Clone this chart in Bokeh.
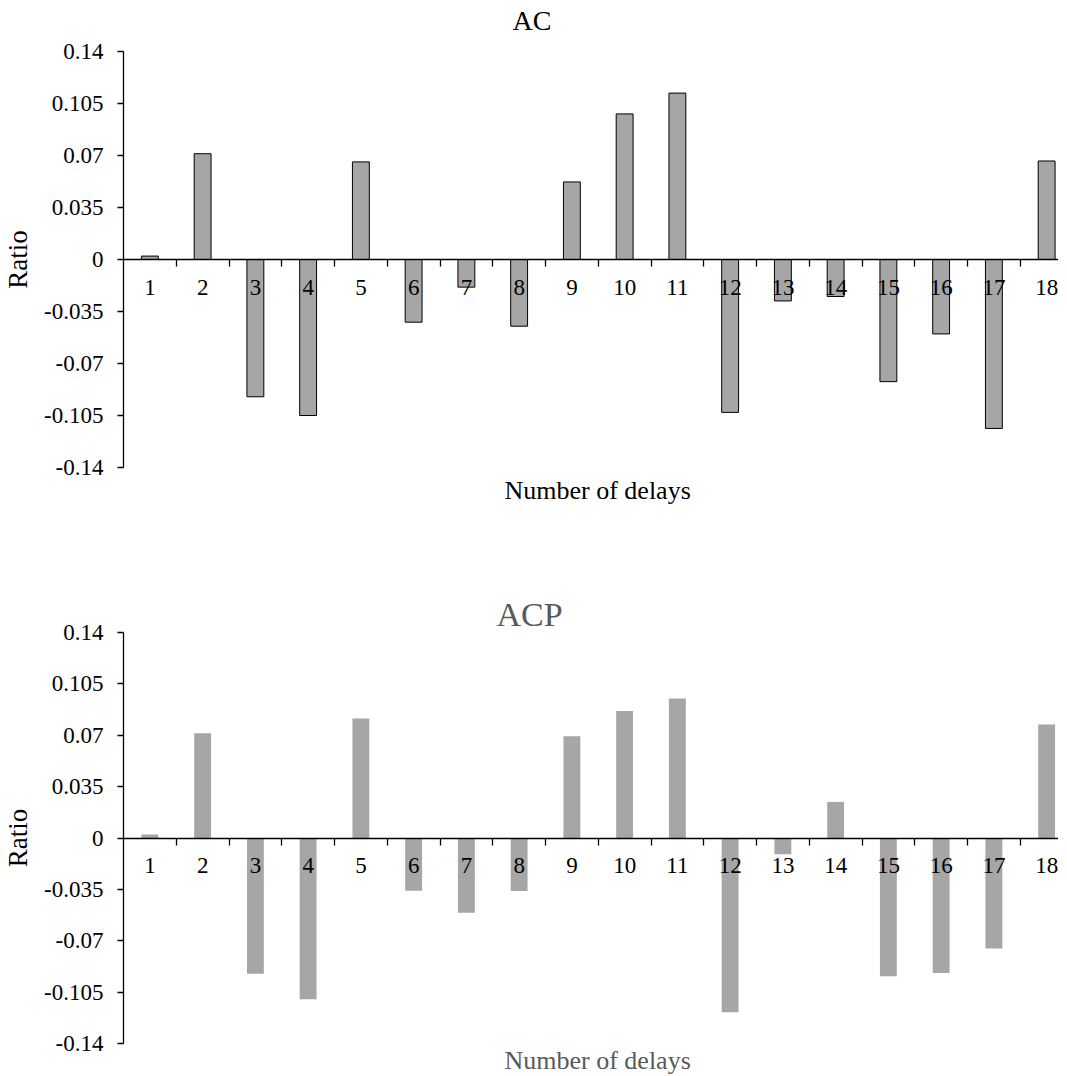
from bokeh.plotting import figure
from bokeh.models import Range1d, FixedTicker, Title, LinearAxis
from bokeh.layouts import column
from bokeh.embed import file_html
from bokeh.resources import INLINE

# ---- data ----
delays = list(range(1, 19))
ac_ratio = [0.0023, 0.0712, -0.0924, -0.1050, 0.0657, -0.0422, -0.0186, -0.0449, 0.0522,
            0.0980, 0.1120, -0.1029, -0.0279, -0.0249, -0.0822, -0.0501, -0.1137, 0.0663]
acp_ratio = [0.0023, 0.0713, -0.0925, -0.1098, 0.0814, -0.0359, -0.0509, -0.0361, 0.0693,
             0.0866, 0.0950, -0.1187, -0.0111, 0.0246, -0.0941, -0.0920, -0.0752, 0.0773]
y_ticks = [0.14, 0.105, 0.07, 0.035, 0.0, -0.035, -0.07, -0.105, -0.14]
y_tick_labels = ["0.14", "0.105", "0.07", "0.035", "0", "-0.035", "-0.07", "-0.105", "-0.14"]
x_tick_labels = [str(d) for d in delays]

FONT = "Liberation Serif"
BAR = "#a6a6a6"


def make_panel(title, values, title_color, xlabel_color, bar_line, title_size, title_offset,
               title_standoff, spacer, top_border, frame_h, bottom_border, xlabel_standoff):
    p = figure(frame_width=935, frame_height=frame_h,
               x_range=Range1d(0.5, 18.225), y_range=Range1d(-0.14, 0.14),
               output_backend="svg", toolbar_location=None,
               x_axis_location=None, y_axis_location=None,
               min_border_left=116, min_border_right=0,
               min_border_top=top_border, min_border_bottom=bottom_border)
    p.outline_line_color = None
    p.background_fill_color = "white"
    p.border_fill_color = "white"
    p.xgrid.visible = False
    p.ygrid.visible = False

    p.title.text = title
    p.title.align = "left"
    p.title.offset = title_offset
    p.title.standoff = title_standoff
    p.title.text_font = FONT
    p.title.text_font_size = f"{title_size}px"
    p.title.text_font_style = "normal"
    p.title.text_color = title_color

    if spacer is not None:
        # empty gap between the title and the plot frame
        p.add_layout(Title(text=" ", text_font_size="1px", standoff=spacer), "above")

    yax = LinearAxis(ticker=FixedTicker(ticks=y_ticks, minor_ticks=[]),
                     major_label_overrides=dict(zip(y_ticks, y_tick_labels)),
                     axis_label="Ratio")
    yax.axis_line_color = "black"
    yax.axis_line_width = 1.3
    yax.major_tick_line_color = "black"
    yax.major_tick_line_width = 1.3
    yax.major_tick_out = 6
    yax.major_tick_in = 0
    yax.minor_tick_line_color = None
    yax.major_label_text_font = FONT
    yax.major_label_text_font_size = "23px"
    yax.major_label_text_color = "black"
    yax.major_label_standoff = 14
    yax.axis_label_text_font = FONT
    yax.axis_label_text_font_size = "27px"
    yax.axis_label_text_font_style = "normal"
    yax.axis_label_text_color = "black"
    yax.axis_label_standoff = 8
    p.add_layout(yax, "left")

    xax = LinearAxis(ticker=FixedTicker(ticks=delays,
                                        minor_ticks=[d + 0.5 for d in delays[:-1]]),
                     major_label_overrides=dict(zip(delays, x_tick_labels)),
                     fixed_location=0)
    xax.axis_line_color = "black"
    xax.axis_line_width = 1.3
    xax.major_tick_out = 0
    xax.major_tick_in = 0
    xax.major_tick_line_color = None
    xax.minor_tick_line_color = "black"
    xax.minor_tick_line_width = 1.3
    xax.minor_tick_out = 7
    xax.minor_tick_in = 0
    xax.major_label_text_font = FONT
    xax.major_label_text_font_size = "23px"
    xax.major_label_text_color = "black"
    xax.major_label_standoff = 13
    p.add_layout(xax, "below")

    p.add_layout(Title(text="Number of delays", align="left", offset=381,
                       standoff=xlabel_standoff,
                       text_font=FONT, text_font_size="26px", text_font_style="normal",
                       text_color=xlabel_color), "below")

    p.vbar(x=delays, top=values, bottom=0, width=0.32,
           fill_color=BAR, line_color=bar_line, line_width=1)
    return p


p1 = make_panel("AC", ac_ratio, "black", "black", "black", 28, 389, 6.4, 8.6,
                top_border=49, frame_h=416, bottom_border=125, xlabel_standoff=12)
p2 = make_panel("ACP", acp_ratio, "#595959", "#595959", None, 34, 373, 0, None,
                top_border=40, frame_h=411, bottom_border=31, xlabel_standoff=0)

layout = column(p1, p2)
open("out.html", "w").write(file_html(layout, INLINE))
